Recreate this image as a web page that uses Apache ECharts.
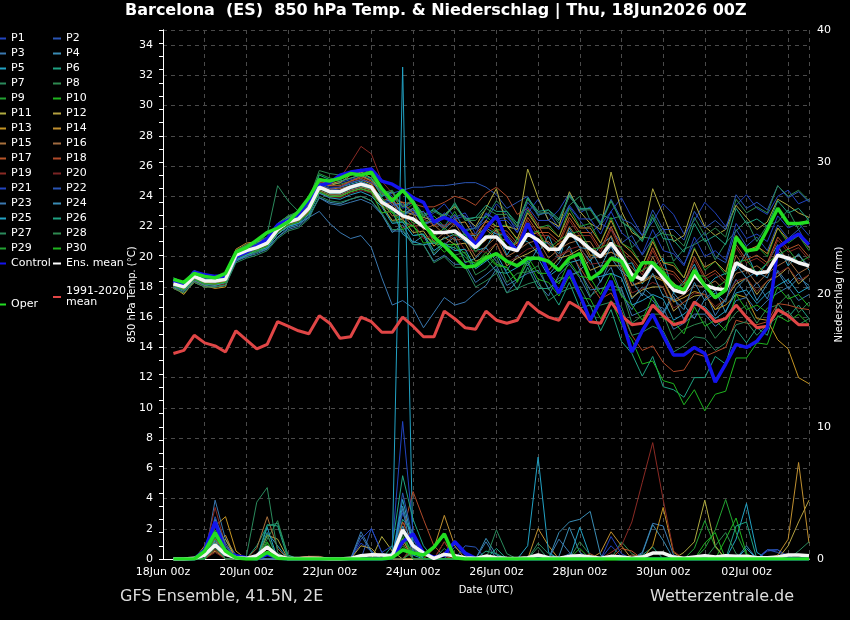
<!DOCTYPE html>
<html><head><meta charset="utf-8">
<script src="https://cdn.jsdelivr.net/npm/echarts/dist/echarts.min.js"></script>
<style>html,body{margin:0;padding:0;background:#000}#c{width:850px;height:620px}</style>
</head><body><div id="c"></div>
<script>
// ---- time axis (hours after 18Jun2026 00Z) ----
const hours = [6,12,18,24,30,36,42,48,54,60,66,72,78,84,90,96,102,108,114,120,126,132,138,144,150,156,162,168,174,180,186,192,198,204,210,216,222,228,234,240,246,252,258,264,270,276,282,288,294,300,306,312,318,324,330,336,342,348,354,360,366,372];
const dateLabels = ["18Jun 00z","20Jun 00z","22Jun 00z","24Jun 00z","26Jun 00z","28Jun 00z","30Jun 00z","02Jul 00z"];
const tempTicks = [0,2,4,6,8,10,12,14,16,18,20,22,24,26,28,30,32,34];
const precipTicks = [0,10,20,30,40];

// ---- 850 hPa temperature (°C) ----
const climMean = [13.6,13.8,14.8,14.3,14.1,13.7,15.1,14.5,13.9,14.2,15.7,15.4,15.1,14.9,16.1,15.6,14.6,14.7,16.0,15.7,15.0,15.0,16.0,15.4,14.7,14.7,16.4,15.9,15.3,15.2,16.4,15.8,15.6,15.8,17.0,16.4,16.0,15.8,17.0,16.6,15.7,15.6,17.0,16.1,15.5,15.6,16.8,16.1,15.5,15.7,17.0,16.5,15.7,15.9,16.8,16.0,15.3,15.4,16.5,16.1,15.5,15.5];
const controlT = [18.4,18.1,19.0,18.8,18.7,18.7, 20.0,20.3,20.7,21.2,22.1,22.4,22.8,23.7, 24.7,24.9,25.4,25.6,25.7,25.8, 25.0,24.8,24.4,23.9,23.6,22.3,22.6,22.3,21.7,20.8, 21.9,22.7,21.1,20.4,22.2,20.6,18.9,17.6,19.1,17.5,15.8,17.1,18.4,16.0, 13.7,15.1,16.2,14.8,13.5,13.5,14.0,13.6,11.7,12.9,14.2,14.0,14.4,15.3,20.6,21.1,21.5,20.8];
const operT = [18.5,18.3,18.9,18.7,18.6,18.9, 20.3,20.6,21.1,21.6,21.9,22.3,23.0,23.9, 25.1,25.0,25.2,25.5,25.4,25.6, 24.5,23.7,24.4,23.6,22.2,21.3,20.7,20.0,19.3,19.4, 19.9,20.2,19.7,19.4,19.9,19.9,19.7,19.1,19.9,20.2,18.5,19.0,19.9,19.7, 18.4,19.6,19.6,18.9,18.1,17.8,19.1,18.1,17.3,17.8,21.3,20.4,20.5,21.8,23.2,22.2,22.2,22.3];
const ensMeanT = [18.2,18.0,18.7,18.4,18.4,18.5, 20.1,20.4,20.6,20.9,21.8,22.3,22.5,23.2, 24.6,24.3,24.3,24.6,24.8,24.6, 23.6,23.2,22.7,22.5,22.0,21.6,21.6,21.7,21.2,20.6, 21.3,21.3,20.6,20.4,21.5,21.1,20.5,20.5,21.5,21.1,20.5,20.0,20.9,20.0, 18.8,18.5,19.5,18.6,17.8,17.6,18.8,18.1,17.9,17.8,19.6,19.2,18.9,19.0,20.1,19.9,19.6,19.4];

const P1_T = [18.5,18.1,19.0,18.6,18.5,18.7, 20.3,20.7,21.0,21.1,22.1,22.7,22.8,23.4, 25.0,24.8,24.9,25.1,25.3,25.1, 24.5,24.0,23.2,23.6,22.4,22.9,23.5,22.6,22.9,21.8, 22.4,23.5,22.8,21.6,22.9,23.8,22.4,23.1,24.2,22.9,23.3,22.1,23.0,23.9, 22.6,21.4,22.3,23.5,22.8,21.5,22.4,23.6,22.9,22.0,23.4,24.1,23.2,22.8,24.0,24.4,23.5,23.8];
const P2_T = [18.3,18.2,18.6,18.5,18.3,18.4, 19.9,20.2,20.5,20.8,21.5,22.0,22.4,23.0, 24.2,24.0,24.1,24.4,24.6,24.5, 24.0,24.2,24.4,24.6,24.6,24.7,24.7,24.8,24.9,24.9, 24.6,24.1,23.2,23.6,24.0,22.8,22.9,21.9,23.3,22.4,21.5,22.2,21.8,20.9, 21.4,20.1,21.2,21.9,20.4,19.5,20.9,21.6,20.0,19.6,21.8,20.7,21.3,20.4,22.1,21.2,21.8,20.6];
const P3_T = [18.0,17.8,18.5,18.2,18.1,18.3, 19.8,20.0,20.3,20.6,21.5,22.0,22.2,22.6, 23.0,22.2,21.6,21.2,21.4,20.6, 18.6,16.8,17.1,16.6,15.3,16.3,17.3,16.8,17.0,17.6, 18.1,19.2,17.6,18.4,19.6,18.2,17.4,18.8,19.5,18.6,17.3,18.4,19.3,17.5, 16.5,17.6,17.1,16.2,17.4,15.8,16.9,17.8,16.1,17.2,18.5,17.4,18.3,17.2,19.1,18.2,18.9,17.8];
const P4_T = [18.1,17.9,18.6,18.2,18.2,18.3, 19.7,20.1,20.3,20.5,21.3,21.9,22.1,22.7, 23.9,23.6,23.5,23.8,24.0,23.7, 22.8,21.6,22.1,20.9,21.4,20.1,20.8,21.3,19.6,19.9, 20.6,19.7,19.1,20.1,19.4,20.6,18.8,19.6,20.7,19.1,19.8,18.3,19.9,19.0, 17.2,18.0,17.4,16.3,17.6,16.8,15.9,17.2,17.8,16.3,17.9,18.6,17.1,18.2,19.0,17.9,18.6,18.1];
const P5_T = [18.4,18.1,18.9,18.6,18.5,18.6, 20.2,20.6,20.8,21.1,22.0,22.5,22.6,23.4, 24.8,24.5,24.6,24.8,25.0,24.7, 23.9,23.0,21.5,21.0,20.8,20.9,21.2,21.5,21.0,20.4, 20.6,21.8,20.1,21.2,21.0,20.2,21.4,19.8,21.9,20.6,19.7,20.8,21.3,19.4, 19.6,18.2,19.3,19.9,17.6,18.4,19.5,17.9,18.6,18.9,19.1,20.3,18.7,19.6,20.8,19.4,20.2,19.1];
const P6_T = [18.3,18.0,18.6,18.3,18.4,18.6, 20.0,20.4,20.7,21.0,21.8,22.4,22.7,23.3, 24.7,24.4,24.2,24.5,24.7,24.5, 23.5,23.0,22.4,22.0,21.4,20.9,20.7,20.6,20.0,19.3, 19.9,19.0,18.9,17.8,19.3,17.9,17.9,16.8,18.3,16.6,16.8,15.1,16.5,14.4, 13.6,12.1,13.4,11.4,11.2,10.7,12.0,12.0,13.4,12.9,15.2,14.3,15.3,14.8,16.9,16.0,16.8,15.9];
const P7_T = [18.5,18.2,18.8,18.6,18.6,18.7, 20.3,20.6,20.9,21.5,24.7,23.7,23.0,23.5, 25.2,24.9,24.8,25.0,25.3,25.1, 24.0,24.3,23.3,23.8,22.6,23.2,22.5,23.6,22.4,22.6, 22.6,23.7,23.0,22.0,23.9,22.7,23.1,22.2,23.4,24.0,22.4,22.8,22.5,22.7, 20.6,21.3,21.2,21.6,19.7,20.5,20.8,21.2,19.8,20.9,21.7,22.4,21.0,22.1,22.3,23.1,21.8,22.6];
const P8_T = [18.0,17.7,18.4,18.1,18.0,18.2, 19.8,20.1,20.3,20.6,21.5,22.0,22.3,22.9, 24.4,24.1,24.0,24.3,24.5,24.2, 23.4,22.3,22.3,21.4,21.5,20.2,20.9,20.1,20.3,18.8, 19.2,20.0,18.3,18.9,19.0,19.4,17.8,18.6,18.6,19.1,17.4,17.9,17.8,17.8, 15.6,16.1,16.2,16.2,14.5,15.2,15.5,15.7,14.6,15.4,16.3,16.8,15.6,16.6,16.8,17.5,16.3,17.0];
const P9_T = [18.6,18.3,19.1,18.7,18.7,18.8, 20.4,20.7,21.0,21.3,22.2,22.7,22.9,23.7, 25.5,25.2,25.1,25.4,25.6,25.4, 24.1,24.3,22.9,23.5,22.2,22.7,22.0,23.0,21.7,21.9, 22.7,22.0,22.1,21.1,23.1,21.9,22.1,21.3,23.2,22.0,22.2,20.9,22.6,20.9, 20.5,19.4,21.2,19.6,19.6,18.6,20.6,19.1,19.7,18.8,21.4,20.2,20.7,20.0,21.9,20.9,21.4,20.4];
const P10_T = [18.2,17.9,18.5,18.3,18.2,18.4, 20.0,20.3,20.5,20.8,21.7,22.2,22.4,23.0, 24.5,24.2,24.2,24.5,24.7,24.4, 23.4,22.9,22.3,22.0,21.4,21.0,20.8,20.8,20.2,19.5, 20.3,19.5,19.3,18.3,19.7,18.5,18.3,17.4,18.7,17.3,17.2,15.9,17.1,15.5, 14.5,12.9,13.1,11.8,11.6,10.2,11.2,9.8,10.9,11.1,13.3,13.3,14.3,14.2,16.1,15.7,16.2,15.5];
const P11_T = [18.3,17.9,18.7,18.4,18.2,18.4, 20.4,20.8,21.0,21.1,22.0,22.6,22.9,23.5, 24.9,24.7,24.9,25.4,25.6,25.2, 24.2,23.6,23.0,22.8,22.6,22.4,22.8,23.3,22.6,22.0, 23.2,24.5,22.0,21.8,25.8,23.9,22.4,22.0,24.3,23.0,22.2,21.8,25.6,23.0, 21.6,21.2,24.5,22.8,21.0,21.4,23.6,22.0,21.4,21.8,23.4,22.6,21.8,22.3,23.8,23.4,22.9,22.6];
const P12_T = [17.9,17.6,18.3,18.0,18.0,18.1, 19.9,20.2,20.4,20.7,21.5,22.1,22.3,22.9, 24.3,24.0,24.0,24.3,24.5,24.3, 23.4,22.4,22.5,21.6,21.7,20.7,21.3,20.8,20.9,19.7, 20.0,20.9,19.4,19.9,20.2,20.6,19.1,19.9,20.1,20.5,19.1,19.4,19.4,19.4, 17.3,17.8,18.0,18.0,16.4,17.0,17.4,17.5,16.5,17.2,18.2,18.6,17.5,18.4,18.7,19.3,18.2,18.8];
const P13_T = [18.0,17.5,18.4,18.1,17.9,18.0, 20.2,20.5,20.6,20.9,21.8,22.3,22.6,23.2, 24.6,24.4,24.6,24.9,25.1,24.8, 23.7,23.2,22.6,22.4,21.9,21.5,21.6,21.7,21.2,20.6, 21.1,21.8,20.5,20.9,21.4,21.6,20.3,20.9,21.3,21.4,20.1,20.1,20.3,19.9, 18.1,18.3,18.7,18.4,17.0,17.3,17.7,17.5,16.5,16.8,17.5,17.3,15.9,15.8,14.5,13.9,12.0,11.6];
const P14_T = [18.4,18.0,18.8,18.5,18.4,18.5, 20.5,20.9,21.0,21.2,22.0,22.5,22.8,23.5, 25.0,24.8,25.0,25.2,25.4,25.0, 24.3,23.4,23.6,22.9,23.0,22.0,22.7,22.2,22.3,21.2, 22.4,22.0,22.0,21.2,22.9,21.9,21.9,21.3,22.9,21.9,21.9,20.9,22.4,20.9, 20.3,19.4,21.0,19.6,19.4,18.6,20.5,19.3,19.7,19.0,21.4,20.4,20.7,20.2,21.9,21.1,21.4,20.6];
const P15_T = [18.2,17.8,18.6,18.3,18.2,18.4, 20.2,20.5,20.7,21.0,21.9,22.4,22.6,23.3, 24.7,24.4,24.5,24.7,24.9,24.7, 23.4,23.6,22.5,22.9,21.8,22.1,21.5,22.2,21.1,21.1, 21.8,21.2,21.1,20.3,22.0,21.0,21.0,20.4,22.0,21.0,21.0,19.9,21.4,19.9, 19.3,18.4,20.0,18.5,18.3,17.5,19.3,18.0,18.4,17.7,20.1,19.1,19.4,18.9,20.6,19.8,20.1,19.3];
const P16_T = [18.1,17.8,18.5,18.2,18.1,18.3, 20.0,20.3,20.6,20.8,21.7,22.2,22.4,23.0, 24.4,24.1,24.1,24.4,24.6,24.4, 23.7,22.7,22.8,22.0,22.1,21.0,21.6,21.1,21.2,20.0, 20.7,21.3,20.0,20.4,20.9,21.1,19.9,20.5,20.9,21.1,19.9,20.0,20.3,20.0, 18.1,18.4,18.8,18.5,17.1,17.5,18.1,18.0,17.2,17.7,18.9,19.1,18.2,18.9,19.4,19.8,18.9,19.3];
const P17_T = [18.3,17.9,18.7,18.4,18.3,18.5, 20.3,20.6,20.8,21.1,22.0,22.5,22.7,23.4, 24.9,24.7,24.7,25.0,25.2,24.9, 23.7,23.9,22.8,23.2,22.1,22.4,21.9,22.6,21.5,21.5, 22.3,21.8,21.7,20.9,22.6,21.6,21.6,21.0,22.6,21.6,21.6,20.5,22.0,20.5, 19.9,19.0,20.6,19.2,19.0,18.2,20.0,18.7,19.1,18.4,20.8,19.8,20.1,19.6,21.3,20.5,20.8,20.0];
const P18_T = [18.2,17.8,18.5,18.2,18.2,18.3, 20.1,20.4,20.6,20.9,21.8,22.3,22.5,23.2, 24.7,24.5,24.6,25.0,25.3,25.0, 24.2,23.9,23.6,23.5,23.3,23.3,23.6,24.0,23.8,23.4, 24.2,24.6,24.0,22.8,23.2,22.1,20.8,20.0,20.4,19.3,18.2,17.2,17.6,16.4, 14.8,13.8,14.1,13.0,12.4,12.5,13.6,13.4,13.7,14.0,15.8,15.6,15.5,15.7,16.9,16.8,16.6,16.5];
const P19_T = [18.3,18.0,18.7,18.4,18.4,18.5, 20.1,20.4,20.7,21.0,21.9,22.3,22.6,23.3, 24.9,24.8,25.2,26.2,27.3,26.8, 25.0,24.2,23.4,23.0,22.5,22.1,22.1,22.2,21.7,21.1, 22.1,21.6,21.5,20.7,22.4,21.4,21.4,20.8,22.4,21.4,21.4,20.3,21.8,20.3, 19.7,18.8,20.4,19.0,18.8,18.0,19.8,18.5,18.9,18.2,20.6,19.6,19.9,19.4,21.1,20.3,20.6,19.8];
const P20_T = [18.1,17.8,18.5,18.2,18.1,18.2, 19.9,20.2,20.4,20.7,21.6,22.1,22.3,22.9, 24.2,23.9,23.9,24.2,24.4,24.2, 22.9,23.0,21.9,22.3,21.2,21.4,20.8,21.5,20.4,20.4, 20.3,20.9,19.6,20.0,20.5,20.7,19.5,20.1,20.5,20.7,19.5,19.6,19.8,19.5, 17.6,17.9,18.3,18.0,16.6,17.0,17.6,17.5,16.7,17.2,18.4,18.6,17.7,18.4,18.9,19.3,18.4,18.8];
const P21_T = [18.5,18.2,18.9,18.6,18.5,18.6, 20.2,20.6,20.8,21.1,22.0,22.5,22.8,23.4, 24.9,24.6,24.6,24.9,25.1,24.9, 24.3,23.4,23.5,22.8,23.0,22.1,22.9,22.5,22.7,21.5, 22.9,22.4,22.4,21.6,23.3,22.4,22.4,21.8,23.4,22.5,22.5,21.5,23.0,21.6, 21.0,20.2,21.8,20.4,20.2,19.4,21.3,20.0,20.4,19.8,22.2,21.2,21.5,21.0,22.7,21.9,22.2,21.4];
const P22_T = [18.4,18.1,18.8,18.5,18.4,18.5, 20.1,20.5,20.7,21.0,21.9,22.4,22.6,23.3, 24.8,24.5,24.4,24.7,24.9,24.7, 23.5,23.7,22.7,23.1,22.1,22.4,22.0,22.8,21.8,21.9, 22.8,22.5,22.6,21.9,23.6,22.8,22.9,22.4,24.0,23.1,23.2,22.3,23.8,22.5, 22.2,21.4,23.1,21.8,21.8,21.1,23.0,21.9,22.4,21.8,24.1,23.2,23.6,23.1,24.7,23.9,24.3,23.6];
const P23_T = [18.0,17.7,18.4,18.1,18.0,18.1, 19.7,20.0,20.2,20.5,21.3,21.8,22.0,22.6, 23.9,23.5,23.4,23.6,23.8,23.5, 22.8,21.7,21.7,20.8,20.8,19.7,20.1,19.5,19.5,18.3, 18.8,19.4,18.1,18.5,18.9,19.1,17.9,18.4,18.8,19.0,17.8,17.9,18.1,17.9, 16.1,16.4,16.8,16.6,15.2,15.6,16.2,16.2,15.4,15.9,17.1,17.3,16.4,17.1,17.6,18.0,17.1,17.5];
const P24_T = [18.3,18.0,18.7,18.4,18.3,18.5, 20.0,20.4,20.6,20.9,21.8,22.2,22.5,23.1, 24.5,24.2,24.2,24.5,24.7,24.5, 23.6,23.8,22.8,23.2,22.2,22.4,21.8,22.5,21.4,21.4, 21.9,21.5,21.4,20.5,22.1,21.0,20.9,20.2,21.7,20.6,20.5,19.3,20.7,19.1, 18.4,17.4,18.9,17.4,17.2,16.5,18.3,17.1,17.6,17.0,19.5,18.6,19.0,18.6,20.4,19.7,20.1,19.4];
const P25_T = [18.1,17.8,18.5,18.2,18.1,18.3, 19.8,20.1,20.4,20.6,21.5,22.0,22.2,22.8, 24.2,23.9,23.8,24.1,24.3,24.0, 23.3,22.2,22.3,21.4,21.5,20.4,20.9,20.4,20.5,19.2, 19.7,20.2,18.9,19.3,19.7,19.9,18.7,19.2,19.6,19.8,18.6,18.7,18.9,18.6, 16.8,17.1,17.5,17.2,15.8,16.2,16.8,16.7,15.9,16.4,17.6,17.8,16.9,17.6,18.1,18.5,17.6,18.0];
const P26_T = [18.4,18.1,18.8,18.5,18.5,18.6, 20.3,20.7,20.9,21.2,22.1,22.6,22.9,23.6, 25.4,25.1,25.0,25.2,25.4,25.2, 24.0,24.3,23.3,23.7,22.8,23.1,22.7,23.5,22.5,22.6, 23.4,23.0,23.0,22.2,23.9,23.0,23.1,22.5,24.1,23.2,23.2,22.2,23.7,22.3, 21.8,21.0,22.6,21.2,21.1,20.3,22.2,21.0,21.4,20.8,23.2,22.2,22.5,22.0,23.7,22.9,23.2,22.4];
const P27_T = [17.9,17.6,18.3,18.0,18.0,18.1, 19.6,19.9,20.1,20.4,21.2,21.7,21.9,22.5, 24.0,23.7,23.6,23.8,24.0,23.7, 22.9,21.8,21.8,20.8,20.8,19.6,20.0,19.3,19.3,18.0, 18.4,18.9,17.6,17.9,18.2,18.4,17.1,17.6,17.9,18.0,16.7,16.8,17.0,16.7, 14.8,15.0,15.4,15.1,13.7,14.1,14.7,14.6,13.8,14.3,15.5,15.7,14.8,15.5,16.0,16.4,15.5,15.9];
const P28_T = [18.6,18.3,19.0,18.7,18.6,18.8, 20.4,20.8,21.0,21.3,22.2,22.7,23.0,23.8, 25.7,25.5,25.4,25.6,25.8,25.5, 24.2,24.4,23.3,23.7,22.7,23.0,22.6,23.4,22.4,22.4, 23.2,22.8,22.8,22.0,23.8,22.9,22.9,22.4,24.0,23.1,23.1,22.1,23.7,22.3, 21.9,21.1,22.8,21.5,21.4,20.7,22.6,21.4,21.9,21.3,23.8,22.9,23.3,22.9,24.7,24.0,24.4,23.7];
const P29_T = [18.4,18.0,18.8,18.4,18.4,18.5, 20.1,20.4,20.6,20.9,21.8,22.3,22.5,23.2, 24.6,24.3,24.3,24.6,24.8,24.6, 23.9,22.9,23.0,22.2,22.3,21.3,21.9,21.4,21.5,20.3, 21.3,21.9,20.6,21.0,21.5,21.7,20.5,21.1,21.5,21.7,20.5,20.6,20.9,20.6, 18.8,19.1,19.5,19.2,17.8,18.2,18.8,18.7,17.9,18.4,19.6,19.8,18.9,19.6,20.1,20.5,19.6,20.0];
const P30_T = [18.1,17.8,18.5,18.2,18.2,18.3, 19.9,20.2,20.4,20.7,21.6,22.1,22.3,22.9, 24.3,24.0,24.0,24.3,24.5,24.3, 22.9,23.0,21.8,22.1,20.9,21.0,20.3,20.9,19.7,19.6, 20.1,19.4,19.3,18.4,20.0,18.9,18.9,18.2,19.7,18.7,18.6,17.5,18.9,17.4, 16.8,15.8,17.4,15.9,15.7,14.9,16.7,15.4,15.8,15.1,17.5,16.5,16.8,16.3,18.0,17.2,17.5,16.7];

// ---- 6-hourly precipitation (mm) ----
const ensMeanR = [0,0,0.05,0.3,1.05,0.35,0.1,0.05,0.25,0.9,0.25,0.03,0.03,0.05,0.03,0,0,0.05,0.25,0.33,0.3,0.25,2.2,1.0,0.45,0.05,0.35,0.25,0.1,0.05,0.22,0.1,0.05,0.03,0.1,0.3,0.1,0.05,0.2,0.25,0.15,0.05,0.2,0.15,0.05,0.15,0.45,0.45,0.15,0.05,0.15,0.25,0.15,0.25,0.2,0.2,0.1,0.1,0.15,0.3,0.3,0.25];
const controlR = [0,0,0,0.7,2.8,0.5,0.25,0.1,0,0.35,0.1,0,0,0,0,0,0,0,0,0,0,0.1,1.3,1.9,0.45,0.12,0.3,1.3,0.45,0.05,0,0,0,0,0,0,0,0,0,0,0,0,0.1,0,0,0,0,0,0,0,0,0,0,0,0,0,0,0,0,0,0,0];
const operR = [0,0,0,0.6,2.0,0.6,0.1,0,0,0.5,0.05,0,0,0,0,0,0,0,0,0,0,0.1,0.68,0.45,0.3,0.9,1.9,0.1,0,0,0,0,0,0,0,0,0,0,0,0,0,0,0,0,0,0,0,0,0,0,0,0,0,0,0,0,0,0,0,0,0,0];
// members: [step, mm] for each 6-h step with rain (all other steps 0 mm)
const P1_R = [[4,0.4],[5,2.0],[6,0.8],[7,0.1],[10,0.3],[19,1.2],[20,0.6],[23,3.5],[24,1.5],[25,0.4],[28,0.9],[29,0.3],[43,1.0],[44,0.2],[58,0.6],[59,0.7],[60,0.2]];
const P2_R = [[5,3.0],[6,1.0],[7,0.2],[20,2.3],[21,0.5],[23,2.0],[24,0.8],[29,1.0],[30,0.9],[58,0.7],[59,0.7]];
const P3_R = [[5,4.45],[6,1.5],[7,0.3],[10,0.5],[19,2.06],[20,0.6],[23,2.5],[24,0.6],[39,0.4],[46,0.5],[47,2.7],[48,2.5],[49,0.3]];
const P4_R = [[4,0.2],[5,1.5],[6,0.5],[10,1.0],[11,0.3],[22,0.3],[23,4.0],[24,1.0],[31,1.56],[32,0.3],[38,0.2],[39,2.4],[40,0.5],[56,1.0]];
const P5_R = [[5,1.2],[6,0.3],[10,2.0],[11,1.0],[22,0.5],[23,37.2],[24,0.3],[40,2.4],[41,0.2],[55,1.5],[56,4.2],[57,0.5]];
const P6_R = [[5,1.0],[9,1.0],[10,2.5],[11,2.7],[12,0.3],[23,3.0],[24,2.0],[31,0.6],[32,0.4],[46,0.3],[47,0.9]];
const P7_R = [[5,0.8],[10,1.8],[23,1.5],[32,2.2],[33,0.4],[36,1.2],[37,0.4]];
const P8_R = [[4,0.3],[5,1.6],[6,0.4],[10,1.5],[11,2.9],[12,0.2],[24,1.0],[40,1.3],[41,0.3],[44,1.3],[45,0.4]];
const P9_R = [[5,2.2],[6,0.5],[10,1.2],[23,2.2],[51,0.8],[52,2.9],[53,0.9]];
const P10_R = [[5,1.8],[6,0.6],[24,0.5],[54,1.5],[55,3.1],[56,0.4]];
const P11_R = [[4,0.5],[5,1.0],[6,1.5],[10,1.8],[11,1.5],[21,1.7],[22,0.6],[50,0.5],[51,1.3],[52,4.45],[53,1.0]];
const P12_R = [[5,0.6],[10,0.8],[19,1.0],[20,0.8],[27,0.5],[60,1.0],[61,2.8],[62,4.45]];
const P13_R = [[4,1.0],[5,2.5],[6,3.2],[7,0.6],[10,1.0],[13,0.1],[14,0.2],[15,0.1],[23,1.5],[47,1.0],[48,3.9],[49,0.5]];
const P14_R = [[5,0.9],[6,1.8],[10,0.9],[26,0.8],[27,3.3],[28,1.0],[36,2.3],[37,1.0],[42,0.5],[43,2.06],[44,1.0],[59,0.3],[60,1.5],[61,7.3],[62,1.2]];
const P15_R = [[5,1.0],[9,0.8],[10,3.2],[11,0.8],[14,0.2],[15,0.2],[24,0.8]];
const P16_R = [[5,1.3],[6,0.4],[10,0.5],[23,1.2],[45,0.3],[46,0.2]];
const P17_R = [[5,1.5],[6,0.5],[13,0.1],[14,0.2],[23,2.8],[24,1.2],[27,1.3],[44,0.8],[45,0.6]];
const P18_R = [[5,0.7],[10,0.6],[23,2.0],[24,5.1],[25,3.0],[26,1.0],[27,0.2],[41,0.4]];
const P19_R = [[4,0.5],[5,3.9],[6,1.0],[10,0.4],[24,1.0],[25,0.5],[43,0.5],[44,1.0],[45,2.8],[46,5.8],[47,8.8],[48,4.5],[49,0.6]];
const P20_R = [[5,0.5],[23,0.8],[27,1.3],[28,0.4]];
const P21_R = [[5,2.5],[6,0.8],[10,0.5],[19,1.5],[20,2.3],[21,0.5],[22,1.0],[23,10.4],[24,2.0],[43,1.7],[44,0.4]];
const P22_R = [[5,3.2],[6,1.0],[23,5.0],[24,1.5],[28,1.4],[29,0.3],[58,0.7],[59,0.5]];
const P23_R = [[5,3.0],[6,1.2],[19,1.8],[20,0.5],[23,3.8],[31,1.3],[38,1.5],[39,0.5]];
const P24_R = [[5,2.0],[6,0.5],[23,2.5],[24,0.8],[38,2.0],[39,2.8],[40,3.0],[41,3.6],[42,0.3],[46,0.4],[47,2.6],[48,1.4]];
const P25_R = [[5,1.4],[6,0.3],[10,2.4],[23,4.5],[24,1.2],[35,1.0],[36,7.7],[37,0.5],[56,0.8]];
const P26_R = [[5,1.2],[10,2.6],[11,2.5],[22,1.0],[23,6.3],[24,3.0],[25,1.0],[32,0.8],[55,2.5],[56,2.8]];
const P27_R = [[5,0.9],[8,0.2],[9,4.3],[10,5.4],[11,0.5],[24,0.6],[36,0.9],[61,0.6],[62,1.3]];
const P28_R = [[5,1.1],[10,1.9],[23,1.8],[27,0.8],[53,1.0],[54,2.0],[55,0.4]];
const P29_R = [[5,1.7],[6,0.5],[10,1.0],[23,1.0],[52,0.8],[53,2.2],[54,4.5],[55,2.0],[56,0.3]];
const P30_R = [[5,2.0],[6,0.8],[10,1.3],[23,1.6],[24,0.5],[40,0.8],[52,1.2],[53,2.0]];

const memberNames = ["P1","P2","P3","P4","P5","P6","P7","P8","P9","P10","P11","P12","P13","P14","P15","P16","P17","P18","P19","P20","P21","P22","P23","P24","P25","P26","P27","P28","P29","P30"];
const memberT = [P1_T,P2_T,P3_T,P4_T,P5_T,P6_T,P7_T,P8_T,P9_T,P10_T,P11_T,P12_T,P13_T,P14_T,P15_T,P16_T,P17_T,P18_T,P19_T,P20_T,P21_T,P22_T,P23_T,P24_T,P25_T,P26_T,P27_T,P28_T,P29_T,P30_T];
const memberR = [P1_R,P2_R,P3_R,P4_R,P5_R,P6_R,P7_R,P8_R,P9_R,P10_R,P11_R,P12_R,P13_R,P14_R,P15_R,P16_R,P17_R,P18_R,P19_R,P20_R,P21_R,P22_R,P23_R,P24_R,P25_R,P26_R,P27_R,P28_R,P29_R,P30_R];

// ---- styling ----
const palette20 = ["#2244c0","#2a55b5","#3a78b0","#3a8cb4","#22a2c4","#1fa383","#2a8a5c","#2e8a50","#22a232","#1fb51f","#b0ac40","#b4a040","#c49422","#c09030","#a8703c","#a06a40","#b85428","#b04a2a","#8a2a24","#7a2424"];
const memberColors = palette20.concat(palette20.slice(0,10));
const FONT = "DejaVu Sans";

const chart = echarts.init(document.getElementById('c'), null, {renderer:'canvas'});
const xy = arr => hours.map((h,i) => [h, arr[i]]);
const sparse = pairs => { const m = {}; pairs.forEach(p => m[p[0]] = p[1]); return hours.map((h,i) => [h, m[i+1] !== undefined ? m[i+1] : 0]); };

const series = [];
memberNames.forEach((n,i) => {
  series.push({name:n, type:'line', yAxisIndex:0, data:xy(memberT[i]), symbol:'none', color:memberColors[i], lineStyle:{width:1, color:memberColors[i]}, silent:true});
});
memberNames.forEach((n,i) => {
  series.push({name:n, type:'line', yAxisIndex:1, data:sparse(memberR[i]), symbol:'none', color:memberColors[i], lineStyle:{width:1, color:memberColors[i]}, silent:true});
});
series.push({name:'1991-2020 mean', type:'line', yAxisIndex:0, data:xy(climMean), symbol:'none', color:'#e04646', lineStyle:{width:3, color:'#e04646'}, silent:true});
series.push({name:'Control', type:'line', yAxisIndex:0, data:xy(controlT), symbol:'none', color:'#1414ee', lineStyle:{width:3.5, color:'#1414ee'}, silent:true});
series.push({name:'Control', type:'line', yAxisIndex:1, data:xy(controlR), symbol:'none', color:'#1414ee', lineStyle:{width:3.5, color:'#1414ee'}, silent:true});
series.push({name:'Ens. mean', type:'line', yAxisIndex:0, data:xy(ensMeanT), symbol:'none', color:'#ffffff', lineStyle:{width:3.5, color:'#f4f4f4'}, silent:true});
series.push({name:'Ens. mean', type:'line', yAxisIndex:1, data:xy(ensMeanR), symbol:'none', color:'#ffffff', lineStyle:{width:3.5, color:'#f4f4f4'}, silent:true});
series.push({name:'Oper', type:'line', yAxisIndex:0, data:xy(operT), symbol:'none', color:'#22dd22', lineStyle:{width:3.5, color:'#22dd22'}, silent:true});
series.push({name:'Oper', type:'line', yAxisIndex:1, data:xy(operR), symbol:'none', color:'#22dd22', lineStyle:{width:3.5, color:'#22dd22'}, silent:true});

const legBase = {orient:'vertical', icon:'rect', itemWidth:8, itemHeight:2, itemGap:0, selectedMode:false, padding:0,
  textStyle:{color:'#ffffff', fontSize:11, fontFamily:FONT, lineHeight:15}};
const col1 = memberNames.filter((n,i)=>i%2===0).concat(['Control']);
const col2 = memberNames.filter((n,i)=>i%2===1).concat(['Ens. mean']);

const option = {
  backgroundColor:'#000000',
  animation:false,
  title:[
    {text:'Barcelona  (ES)  850 hPa Temp. & Niederschlag | Thu, 18Jun2026 00Z', left:125, top:3, padding:0, textStyle:{color:'#ffffff', fontSize:16, fontWeight:'bold', fontFamily:FONT}},
    {text:'GFS Ensemble, 41.5N, 2E', left:120, top:589, padding:0, textStyle:{color:'#dddddd', fontSize:16, fontWeight:'normal', fontFamily:FONT}},
    {text:'Wetterzentrale.de', left:650, top:589, padding:0, textStyle:{color:'#dddddd', fontSize:16, fontWeight:'normal', fontFamily:FONT}}
  ],
  legend:[
    Object.assign({}, legBase, {data:col1, left:-2, top:31}),
    Object.assign({}, legBase, {data:col2, left:53, top:31}),
    Object.assign({}, legBase, {data:['Oper'], left:-2, top:297}),
    Object.assign({}, legBase, {data:['1991-2020 mean'], left:53, top:286, formatter: n => '1991-2020\nmean', textStyle:{color:'#ffffff', fontSize:11, fontFamily:FONT, lineHeight:11}})
  ],
  grid:{left:163, right:41, top:30, bottom:61, containLabel:false, outerBoundsMode:'none'},
  xAxis:[
    {type:'value', min:0, max:372, interval:24, position:'bottom',
     name:'Date (UTC)', nameLocation:'middle', nameGap:26,
     nameTextStyle:{color:'#ffffff', fontSize:10, fontFamily:FONT},
     axisLine:{show:true, lineStyle:{color:'#ffffff', width:1}},
     axisTick:{show:false},
     axisLabel:{color:'#ffffff', fontSize:11, fontFamily:FONT, margin:8, showMaxLabel:false,
       formatter: v => (v % 48 === 0 && dateLabels[v/48] !== undefined) ? dateLabels[v/48] : ''},
     splitLine:{show:true, lineStyle:{color:'#4a4a4a', type:[4,4], width:1}}},
    {type:'value', min:0, max:372, position:'top', axisLine:{show:true, lineStyle:{color:'#ffffff', width:1}}, axisTick:{show:false}, axisLabel:{show:false}, splitLine:{show:false}}
  ],
  yAxis:[
    {type:'value', min:0, max:35, interval:2, position:'left',
     name:'850 hPa Temp. (°C)', nameLocation:'middle', nameGap:26, nameMoveOverlap:false,
     nameTextStyle:{color:'#ffffff', fontSize:10, fontFamily:FONT},
     axisLine:{show:true, lineStyle:{color:'#ffffff', width:1}},
     axisTick:{show:false},
     axisLabel:{color:'#ffffff', fontSize:11, fontFamily:FONT, margin:10,
       formatter: v => tempTicks.indexOf(v) >= 0 ? String(v) : ''},
     splitLine:{show:true, lineStyle:{color:'#4a4a4a', type:[4,4], width:1}}},
    {type:'value', min:0, max:40, interval:1, position:'right',
     name:'Niederschlag (mm)', nameLocation:'middle', nameGap:25, nameMoveOverlap:false,
     nameTextStyle:{color:'#ffffff', fontSize:10, fontFamily:FONT},
     axisLine:{show:true, lineStyle:{color:'#ffffff', width:1}},
     axisTick:{show:true, inside:true, length:4, lineStyle:{color:'#ffffff'}},
     axisLabel:{color:'#ffffff', fontSize:11, fontFamily:FONT, margin:8,
       formatter: v => precipTicks.indexOf(v) >= 0 ? String(v) : ''},
     splitLine:{show:false}}
  ],
  series: series
};
chart.setOption(option);
</script>
</body></html>
